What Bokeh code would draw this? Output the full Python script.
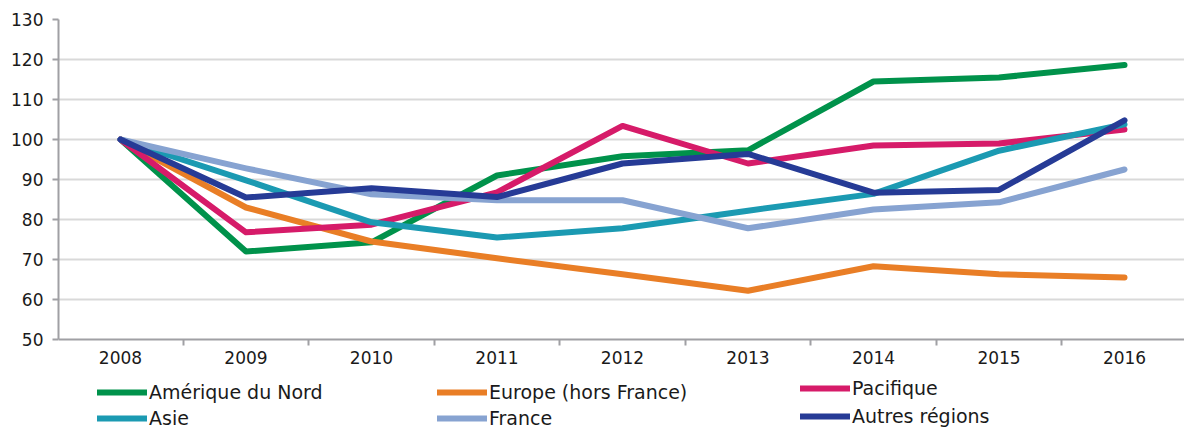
from bokeh.plotting import figure
from bokeh.models import FixedTicker, Legend, LegendItem, Range1d
from bokeh.embed import file_html
from bokeh.resources import INLINE

years = [2008, 2009, 2010, 2011, 2012, 2013, 2014, 2015, 2016]
year_labels = ["2008", "2009", "2010", "2011", "2012", "2013", "2014", "2015", "2016"]

amerique_nord = [100, 72.0, 74.3, 91.0, 95.8, 97.3, 114.5, 115.5, 118.6]
europe_hors_france = [100, 83.0, 74.5, 70.3, 66.3, 62.2, 68.3, 66.3, 65.5]
pacifique = [100, 76.8, 78.7, 86.8, 103.4, 94.0, 98.5, 99.0, 102.5]
asie = [100, 89.8, 79.3, 75.5, 77.8, 82.2, 86.4, 97.2, 103.8]
france = [100, 92.8, 86.3, 84.8, 84.8, 77.8, 82.5, 84.3, 92.5]
autres_regions = [100, 85.5, 87.8, 85.6, 94.0, 96.4, 86.7, 87.4, 104.8]

y_ticks = [50, 60, 70, 80, 90, 100, 110, 120, 130]

series = [
    ("Amérique du Nord", amerique_nord, "#00924B"),
    ("Europe (hors France)", europe_hors_france, "#E97E26"),
    ("Pacifique", pacifique, "#D61B69"),
    ("Asie", asie, "#1B9AB2"),
    ("France", france, "#87A3D1"),
    ("Autres régions", autres_regions, "#263B96"),
]

FONT = "DejaVu Sans"
AXIS_GREY = "#A0A0A4"

p = figure(width=1184, height=430, output_backend="svg", toolbar_location=None,
           x_range=Range1d(2007.506, 2016.478), y_range=Range1d(27.25, 130),
           min_border_left=58, min_border_right=0, min_border_top=19, min_border_bottom=0)
p.outline_line_color = None
p.background_fill_color = "white"
p.border_fill_color = "white"

renderers = {}
for name, vals, col in series:
    r = p.line(years, vals, line_color=col, line_width=6, line_join="round", line_cap="round")
    renderers[name] = r

# x axis drawn at y = 50 inside the frame
xa = p.xaxis[0]
xa.fixed_location = 50
xa.ticker = FixedTicker(ticks=years, minor_ticks=[y - 0.5 for y in years] + [years[-1] + 0.5])
xa.major_label_overrides = {y: l for y, l in zip(years, year_labels)}
xa.major_tick_out = 0
xa.major_tick_in = 0
xa.minor_tick_out = 6
xa.minor_tick_in = 0
xa.minor_tick_line_color = AXIS_GREY
xa.minor_tick_line_width = 2
xa.axis_line_color = AXIS_GREY
xa.axis_line_width = 2
xa.major_label_text_font = FONT
xa.major_label_text_font_size = "17px"
xa.major_label_text_color = "#1a1a1a"
xa.major_label_standoff = 5

ya = p.yaxis[0]
ya.bounds = (50, 130)
ya.ticker = FixedTicker(ticks=y_ticks, minor_ticks=[])
ya.major_tick_out = 6
ya.major_tick_in = 0
ya.major_tick_line_color = AXIS_GREY
ya.major_tick_line_width = 2
ya.axis_line_color = AXIS_GREY
ya.axis_line_width = 2
ya.major_label_text_font = FONT
ya.major_label_text_font_size = "17px"
ya.major_label_text_color = "#1a1a1a"
ya.major_label_standoff = 9

p.xgrid.grid_line_color = None
p.ygrid.ticker = FixedTicker(ticks=y_ticks[1:])
p.ygrid.grid_line_color = "#D9D9D9"
p.ygrid.grid_line_width = 2


def make_legend(names, loc, spacing):
    lg = Legend(items=[LegendItem(label=n, renderers=[renderers[n]]) for n in names],
                location=loc, orientation="vertical")
    lg.border_line_color = None
    lg.background_fill_alpha = 0
    lg.padding = 0
    lg.margin = 0
    lg.spacing = spacing
    lg.glyph_width = 50
    lg.glyph_height = 18
    lg.label_height = 18
    lg.label_standoff = 2
    lg.label_text_font = FONT
    lg.label_text_font_size = "19px"
    lg.label_text_color = "#1a1a1a"
    return lg


p.add_layout(make_legend(["Amérique du Nord", "Asie"], (39, 1), 4))
p.add_layout(make_legend(["Europe (hors France)", "France"], (379, 1), 4))
p.add_layout(make_legend(["Pacifique", "Autres régions"], (742, 3), 6))

open("out.html", "w").write(file_html(p, INLINE))
